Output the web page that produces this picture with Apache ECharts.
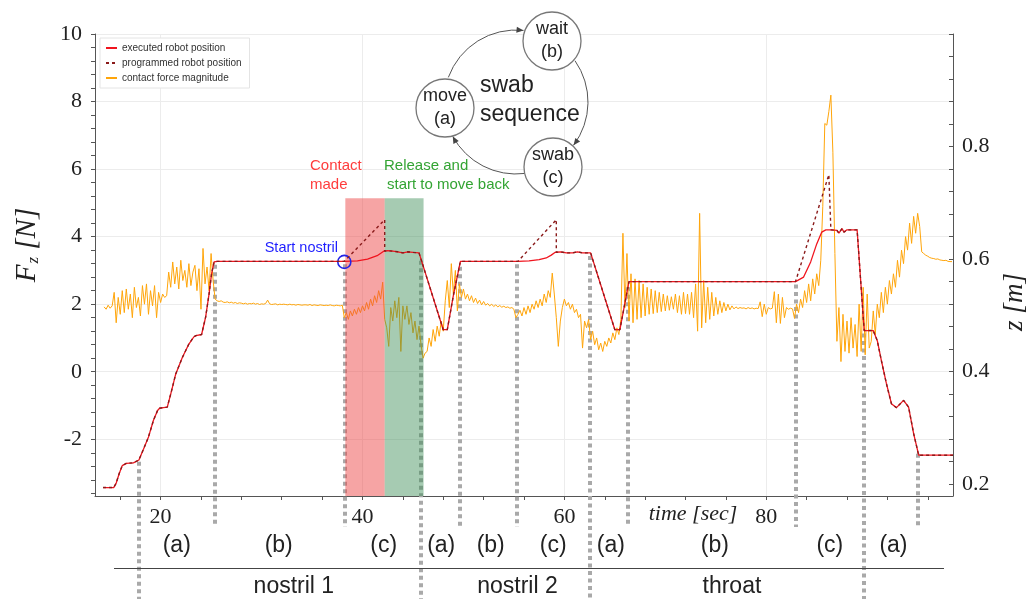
<!DOCTYPE html>
<html>
<head>
<meta charset="utf-8">
<script src="https://cdn.jsdelivr.net/npm/echarts@6/dist/echarts.min.js"></script>
<style>
  html, body { margin: 0; padding: 0; background: #fff; }
  #chart { width: 1029px; height: 599px; }
</style>
</head>
<body>
<div id="chart"></div>
<script>
// ---- values ----
const xTickLabels = [20, 40, 60, 80];
const forceTickLabels = [-2, 0, 2, 4, 6, 8, 10];
const zTickLabels = [0.2, 0.4, 0.6, 0.8];

// executed robot position (time [s], z [m])
const execTimes = [14.3, 15.35, 15.6, 15.9, 16.2, 16.6, 17.3, 17.85,
  18.3, 18.8, 19.3, 19.7, 19.9, 20.66,
  21.0, 21.5, 22.15, 22.8, 23.3, 23.5, 24.06,
  24.46, 24.8, 25.05, 25.3, 25.6,
  38.2, 39.5, 40.5, 41.45, 42.1, 42.5, 43.0, 43.5, 44.0, 44.5, 45.0, 45.6,
  48.0, 48.4, 49.0, 49.7,
  55.4, 56.5, 57.5, 58.2, 58.7, 59.1, 59.6, 60.2, 60.8, 61.3, 61.8, 62.6,
  65.0, 65.5, 66.4,
  82.9, 83.7, 84.4, 85.0, 85.5, 85.9, 86.5, 87.0, 87.2, 87.5, 87.7, 88.0, 89.0,
  89.7, 90.6, 91.0, 91.4, 91.9, 92.4, 92.9, 93.6, 94.1, 94.6, 95.1, 98.5];
const execZ = [0.194, 0.194, 0.202, 0.219, 0.233, 0.237, 0.238, 0.243,
  0.262, 0.284, 0.314, 0.331, 0.335, 0.337,
  0.360, 0.396, 0.425, 0.449, 0.462, 0.464, 0.466,
  0.497, 0.538, 0.574, 0.595, 0.596,
  0.596, 0.597, 0.600, 0.606, 0.614, 0.615, 0.614, 0.613, 0.611, 0.613, 0.612, 0.611,
  0.4745, 0.4745, 0.535, 0.596,
  0.596, 0.597, 0.599, 0.602, 0.607, 0.612, 0.613, 0.611, 0.611, 0.613, 0.611, 0.611,
  0.4745, 0.4745, 0.560,
  0.560, 0.568, 0.595, 0.627, 0.648, 0.652, 0.652, 0.651, 0.646, 0.654, 0.648, 0.652, 0.652,
  0.473, 0.473, 0.455, 0.420, 0.379, 0.343, 0.336, 0.349, 0.337, 0.290, 0.2515, 0.2515];

// programmed robot position
const progTimes = [14.3, 15.35, 15.6, 15.9, 16.2, 16.6, 17.3, 17.85,
  18.3, 18.8, 19.3, 19.7, 19.9, 20.66,
  21.0, 21.5, 22.15, 22.8, 23.3, 23.5, 24.06,
  24.46, 24.8, 25.05, 25.3, 25.6,
  38.2, 42.2, 42.2, 42.5, 43.0, 43.5, 44.0, 44.5, 45.0, 45.6,
  48.0, 48.4, 49.0, 49.7,
  55.4, 59.2, 59.2, 59.6, 60.2, 60.8, 61.3, 61.8, 62.6,
  65.0, 65.5, 66.4,
  82.9, 86.2, 86.4, 87.0, 87.2, 87.5, 87.7, 88.0, 89.0,
  89.7, 90.6, 91.0, 91.4, 91.9, 92.4, 92.9, 93.6, 94.1, 94.6, 95.1, 98.5];
const progZ = [0.194, 0.194, 0.202, 0.219, 0.233, 0.237, 0.238, 0.243,
  0.262, 0.284, 0.314, 0.331, 0.335, 0.337,
  0.360, 0.396, 0.425, 0.449, 0.462, 0.464, 0.466,
  0.497, 0.538, 0.574, 0.595, 0.596,
  0.596, 0.670, 0.614, 0.615, 0.614, 0.613, 0.611, 0.613, 0.612, 0.611,
  0.4745, 0.4745, 0.535, 0.596,
  0.596, 0.670, 0.612, 0.613, 0.611, 0.611, 0.613, 0.611, 0.611,
  0.4745, 0.4745, 0.560,
  0.560, 0.750, 0.652, 0.651, 0.646, 0.654, 0.648, 0.652, 0.652,
  0.473, 0.473, 0.455, 0.420, 0.379, 0.343, 0.336, 0.349, 0.337, 0.290, 0.2515, 0.2515];

// contact force magnitude [N], sampled every 0.2 s from 14.4 s
const forceStart = 14.4;
const forceStep = 0.2;
const forceValues = [
  1.92, 1.85, 1.97, 1.88, 1.95, 2.35, 1.45, 2.2, 1.7, 2.4,      // 14.4
  1.75, 2.45, 1.85, 2.3, 1.6, 2.5, 1.9, 2.2, 1.65, 2.55,        // 16.4
  2.0, 2.6, 1.7, 2.4, 1.95, 2.55, 1.6, 2.35, 2.05, 2.3,         // 18.4
  2.2, 2.25, 2.95, 2.5, 3.25, 2.6, 3.1, 2.45, 3.3, 2.7,         // 20.4
  3.0, 2.5, 3.2, 2.55, 2.95, 3.15, 2.4, 3.05, 1.85, 3.65,       // 22.4
  2.6, 3.1, 2.4, 3.5, 2.7, 2.15, 2.1, 2.08, 2.1, 2.06,          // 24.4
  2.05, 2.07, 2.04, 2.06, 2.03, 2.05, 2.02, 2.04, 2.03, 2.01,   // 26.4
  2.03, 2.0, 2.02, 2.01, 2.03, 2.0, 2.02, 1.99, 2.01, 2.0,      // 28.4
  2.02, 2.12, 2.01, 1.99, 2.0, 2.01, 1.98, 2.0, 1.99, 2.0,      // 30.4
  1.99, 1.98, 2.0, 1.98, 1.99, 1.97, 1.99, 1.98, 1.97, 1.98,    // 32.4
  1.98, 1.97, 1.99, 1.96, 1.98, 1.97, 1.96, 1.98, 1.97, 1.96,   // 34.4
  1.97, 1.96, 1.98, 1.96, 1.95, 1.97, 1.96, 1.95, 1.97, 1.6,    // 36.4
  1.75, 1.55, 1.8, 1.65, 1.85, 1.7, 1.9, 1.75, 1.95, 1.8,       // 38.4
  2.05, 1.85, 2.15, 1.95, 2.25, 2.05, 2.4, 2.15, 2.65, 1.55,    // 40.4
  1.3, 0.75, 1.9, 1.5, 2.1, 1.6, 2.2, 0.6, 1.95, 1.55,          // 42.4
  1.95, 1.4, 1.75, 1.15, 1.5, 0.95, 1.35, 0.8, 0.4, 0.55,       // 44.4
  0.6, 1.0, 0.75, 1.25, 0.9, 1.35, 1.05, 1.5, 1.2, 2.1,         // 46.4
  2.7, 1.9, 3.2, 2.3, 3.0, 1.8, 2.6, 2.2, 2.45, 2.15,           // 48.4
  2.3, 2.1, 2.25, 2.05, 2.18, 2.02, 2.12, 1.98, 2.08, 1.97,     // 50.4
  2.02, 1.95, 2.0, 1.93, 1.98, 1.92, 1.96, 1.91, 1.94, 1.9,     // 52.4
  1.92, 1.88, 1.9, 1.85, 1.6, 1.7, 1.82, 1.65, 1.9, 1.7,        // 54.4
  1.95, 1.75, 2.0, 1.85, 2.1, 1.9, 2.15, 1.95, 2.3, 2.05,       // 56.4
  2.4, 2.2, 2.92, 2.3, 1.6, 0.75, 1.5, 1.9, 2.15, 1.95,         // 58.4
  2.05, 1.85, 2.0, 1.75, 1.85, 1.6, 1.7, 0.7, 1.5, 1.3,         // 60.4
  1.55, 0.95, 1.2, 0.8, 1.0, 0.65, 0.85, 0.6, 0.9, 0.75,        // 62.4
  1.0, 0.85, 1.15, 0.95, 1.3, 1.1, 1.55, 4.1, 1.9, 3.5,         // 64.4
  1.5, 2.9, 1.45, 2.75, 1.55, 2.7, 1.6, 2.6, 1.65, 2.5,         // 66.4
  1.7, 2.45, 1.72, 2.4, 1.75, 2.35, 1.78, 2.3, 1.8, 2.25,       // 68.4
  1.82, 2.22, 1.85, 2.3, 1.75, 2.25, 1.7, 2.35, 1.72, 2.3,      // 70.4
  1.7, 2.35, 1.6, 2.6, 1.2, 4.69, 1.3, 2.7, 1.45, 2.5,          // 72.4
  1.55, 2.35, 1.65, 2.2, 1.7, 2.1, 1.75, 2.05, 1.8, 2.0,        // 74.4
  1.83, 1.95, 1.86, 1.92, 1.87, 1.9, 1.88, 1.89, 1.86, 1.9,     // 76.4
  1.87, 1.89, 1.86, 1.88, 1.87, 2.07, 1.63, 2.0, 1.7, 1.9,      // 78.4
  1.86, 1.88, 2.37, 1.45, 2.3, 1.43, 2.2, 1.6, 1.9, 1.85,       // 80.4
  1.88, 1.86, 1.58, 2.0, 1.75, 2.15, 1.9, 2.4, 2.05, 2.6,       // 82.4
  2.1, 2.75, 2.3, 2.9, 2.55, 3.3, 4.9, 7.35, 7.3, 7.7,          // 84.4
  8.19, 6.5, 3.5, 0.9, 1.9, 0.3, 1.7, 0.6, 1.5, 0.55,           // 86.4
  1.6, 0.7, 1.4, 0.45, 2.0, 0.6, 2.5, 0.5, 2.3, 0.7,            // 88.4
  0.9, 1.8, 1.1, 2.0, 1.6, 2.35, 1.75, 2.5, 2.0, 2.7,           // 90.4
  2.3, 2.9, 2.5, 3.3, 2.8, 3.6, 3.2, 4.0, 3.6, 4.4,             // 92.4
  3.8, 4.6, 4.1, 4.69, 4.3, 3.55, 3.5, 3.45, 3.42, 3.38,        // 94.4
  3.36, 3.35, 3.33, 3.34, 3.31, 3.3, 3.29, 3.3, 3.27, 3.26,     // 96.4
  3.26                                                          // 98.4
];

// shaded phases of the first swab
const contactSpan = [38.3, 42.2];
const releaseSpan = [42.2, 46.05];
const shadeTop = 5.14;

// start of the first nostril contact
const startNostril = [38.2, 0.595];

// phase boundaries (dotted) and labels under the axis
const boundaryTimes = [17.9, 25.35, 38.3, 45.75, 49.65, 55.35, 62.55, 66.35, 82.9, 89.7, 95.0];
const boundaryLong = [true, false, false, true, false, false, true, false, false, true, false];
const phaseLabels = ['(a)', '(b)', '(c)', '(a)', '(b)', '(c)', '(a)', '(b)', '(c)', '(a)'];
const phaseTimes = [21.6, 31.7, 42.1, 47.8, 52.7, 58.9, 64.6, 74.9, 86.3, 92.6];
const groupLabels = ['nostril 1', 'nostril 2', 'throat'];
const groupTimes = [33.2, 55.35, 76.6];

const sans = "'Liberation Sans', Arial, sans-serif";
const serif = "'Liberation Serif', 'Times New Roman', serif";

// minor tick positions
const xMinorTicks = [];
for (let v = 16; v <= 96; v += 4) xMinorTicks.push(v);
const forceMinorTicks = [];
for (let k = 0; k <= 34; k++) forceMinorTicks.push(+(-3.6 + 0.4 * k).toFixed(2));
const zMinorTicks = [];
for (let k = 0; k <= 20; k++) zMinorTicks.push(+(0.2 + 0.04 * k).toFixed(2));

const pairs = (ts, vs) => ts.map((t, i) => [t, vs[i]]);

const axisColor = '#555';
const gridColor = '#ececec';

const option = {
  animation: false,
  grid: { left: 95, right: 76, top: 34, bottom: 103, containLabel: false, outerBoundsMode: 'none' },
  legend: {
    data: ['executed robot position', 'programmed robot position', 'contact force magnitude'],
    orient: 'vertical',
    left: 100,
    top: 38,
    itemWidth: 11,
    itemHeight: 8,
    itemGap: 5,
    padding: [5, 8, 5, 5],
    borderColor: '#e4e4e4',
    borderWidth: 1,
    backgroundColor: '#fff',
    itemStyle: { opacity: 0 },
    textStyle: { fontSize: 10, color: '#333', fontFamily: sans }
  },
  xAxis: [
    {
      type: 'value', min: 13.5, max: 98.5, position: 'bottom',
      axisLine: { show: true, onZero: false, lineStyle: { color: axisColor } },
      axisTick: { show: false, customValues: xTickLabels },
      axisLabel: { customValues: xTickLabels, fontFamily: serif, fontSize: 22, color: '#222', margin: 10 },
      splitLine: { show: true, lineStyle: { color: gridColor } }
    },
    {
      type: 'value', min: 13.5, max: 98.5, position: 'bottom',
      axisLine: { show: false, onZero: false },
      axisTick: { show: true, customValues: xMinorTicks, length: 4, lineStyle: { color: axisColor } },
      axisLabel: { show: false },
      splitLine: { show: false }
    }
  ],
  yAxis: [
    {
      type: 'value', min: -3.68, max: 10, position: 'left',
      axisLine: { show: true, onZero: false, lineStyle: { color: axisColor } },
      axisTick: { show: false, customValues: forceTickLabels },
      axisLabel: { customValues: forceTickLabels, fontFamily: serif, fontSize: 22, color: '#222', margin: 13 },
      splitLine: { show: true, lineStyle: { color: gridColor } }
    },
    {
      type: 'value', min: 0.179, max: 1.0, position: 'right',
      axisLine: { show: true, onZero: false, lineStyle: { color: axisColor } },
      axisTick: { show: true, inside: true, customValues: zMinorTicks, length: 4, lineStyle: { color: axisColor } },
      axisLabel: { customValues: zTickLabels, fontFamily: serif, fontSize: 22, color: '#222', margin: 9 },
      splitLine: { show: false }
    },
    {
      type: 'value', min: -3.68, max: 10, position: 'left',
      axisLine: { show: false, onZero: false },
      axisTick: { show: true, customValues: forceMinorTicks, length: 4, lineStyle: { color: axisColor } },
      axisLabel: { show: false },
      splitLine: { show: false }
    }
  ],
  series: [
    {
      name: 'contact force magnitude',
      type: 'line',
      yAxisIndex: 0,
      z: 2,
      symbol: 'none',
      data: forceValues.map((v, i) => [+(forceStart + i * forceStep).toFixed(1), v]),
      lineStyle: { color: '#ffa50a', width: 1 },
      itemStyle: { color: '#ffb52e' }
    },
    {
      name: 'shade',
      type: 'line',
      yAxisIndex: 0,
      z: 3,
      data: [],
      markArea: {
        silent: true,
        z: 3,
        data: [
          [{ xAxis: contactSpan[0], yAxis: shadeTop, itemStyle: { color: 'rgba(236,64,64,0.48)' } },
           { xAxis: contactSpan[1], yAxis: -3.68 }],
          [{ xAxis: releaseSpan[0], yAxis: shadeTop, itemStyle: { color: 'rgba(58,140,84,0.45)' } },
           { xAxis: releaseSpan[1], yAxis: -3.68 }]
        ]
      }
    },
    {
      name: 'executed robot position',
      type: 'line',
      yAxisIndex: 1,
      z: 4,
      symbol: 'none',
      data: pairs(execTimes, execZ),
      lineStyle: { color: '#f0141e', width: 1.3 },
      itemStyle: { color: '#f0141e' },
      markPoint: {
        silent: true,
        symbol: 'circle',
        symbolSize: 13,
        itemStyle: { color: 'rgba(0,0,0,0)', borderColor: '#2323e6', borderWidth: 1.6 },
        label: {
          show: true, position: 'left', distance: 1, offset: [2, -14],
          formatter: 'Start nostril', color: '#1e1eff', fontSize: 14.5, fontFamily: sans
        },
        data: [{ coord: startNostril }]
      }
    },
    {
      name: 'programmed robot position',
      type: 'line',
      yAxisIndex: 1,
      z: 5,
      symbol: 'none',
      data: pairs(progTimes, progZ),
      lineStyle: { color: '#8a1a1a', width: 1.4, type: [3, 3] },
      itemStyle: { color: '#8a1a1a' }
    }
  ]
};

const chart = echarts.init(document.getElementById('chart'));
chart.setOption(option);

// linear read of the executed curve, for the tops of the dotted markers
function execAt(t) {
  for (let i = 1; i < execTimes.length; i++) {
    if (t <= execTimes[i]) {
      const t0 = execTimes[i - 1], t1 = execTimes[i];
      const f = t1 === t0 ? 0 : (t - t0) / (t1 - t0);
      return execZ[i - 1] + f * (execZ[i] - execZ[i - 1]);
    }
  }
  return execZ[execZ.length - 1];
}

const px = t => chart.convertToPixel({ xAxisIndex: 0 }, t);
const pz = z => chart.convertToPixel({ yAxisIndex: 1 }, z);

const elements = [];

// dotted phase boundaries
boundaryTimes.forEach((t, i) => {
  const x = Math.round(px(t));
  elements.push({
    type: 'line', z: 1, silent: true,
    shape: { x1: x, y1: pz(execAt(t)) + 3, x2: x, y2: boundaryLong[i] ? 599 : 527 },
    style: { stroke: '#a9a9a9', lineWidth: 4, lineDash: [4, 3.5] }
  });
});

// phase and group labels under the axis
phaseLabels.forEach((s, i) => {
  elements.push({
    type: 'text', z: 10, silent: true, x: px(phaseTimes[i]), y: 546,
    style: { text: s, font: '23px ' + sans, fill: '#222', align: 'center', verticalAlign: 'middle' }
  });
});
groupLabels.forEach((s, i) => {
  elements.push({
    type: 'text', z: 10, silent: true, x: px(groupTimes[i]), y: 587,
    style: { text: s, font: '23px ' + sans, fill: '#222', align: 'center', verticalAlign: 'middle' }
  });
});
elements.push({
  type: 'line', z: 10, silent: true,
  shape: { x1: 114, y1: 568.5, x2: 944, y2: 568.5 },
  style: { stroke: '#444', lineWidth: 1 }
});

// axis names
elements.push({
  type: 'text', z: 10, silent: true, x: 27, y: 245, rotation: Math.PI / 2,
  style: {
    text: '{i|F}{s|z}{i| [N]}', align: 'center', verticalAlign: 'middle', fill: '#222',
    rich: {
      i: { fontFamily: serif, fontStyle: 'italic', fontSize: 29, fill: '#222' },
      s: { fontFamily: serif, fontStyle: 'italic', fontSize: 17, fill: '#222', padding: [14, 0, 0, 1] }
    }
  }
});
elements.push({
  type: 'text', z: 10, silent: true, x: 1015, y: 302, rotation: Math.PI / 2,
  style: { text: 'z [m]', font: 'italic 27px ' + serif, fill: '#222', align: 'center', verticalAlign: 'middle' }
});
elements.push({
  type: 'text', z: 10, silent: true, x: 693, y: 514,
  style: { text: 'time [sec]', font: 'italic 22px ' + serif, fill: '#222', align: 'center', verticalAlign: 'middle' }
});

// annotations of the first swab
[['Contact', 310, 166], ['made', 310, 185]].forEach(([s, x, y]) => {
  elements.push({ type: 'text', z: 10, silent: true, x, y,
    style: { text: s, font: '15px ' + sans, fill: '#ff3c3c', align: 'left', verticalAlign: 'middle' } });
});
[['Release and', 384, 166], ['start to move back', 387, 185]].forEach(([s, x, y]) => {
  elements.push({ type: 'text', z: 10, silent: true, x, y,
    style: { text: s, font: '15px ' + sans, fill: '#33a433', align: 'left', verticalAlign: 'middle' } });
});

// swab sequence diagram
const ring = { cx: 516, cy: 102, r: 72 };
const arcs = [[200, 276], [-35, 37], [83, 151.5]];
arcs.forEach(([a0, a1]) => {
  const s = a0 * Math.PI / 180, e = a1 * Math.PI / 180;
  elements.push({
    type: 'arc', z: 10, silent: true,
    shape: { cx: ring.cx, cy: ring.cy, r: ring.r, startAngle: s, endAngle: e, clockwise: true },
    style: { stroke: '#555', lineWidth: 1, fill: null }
  });
  const tipX = ring.cx + ring.r * Math.cos(e), tipY = ring.cy + ring.r * Math.sin(e);
  const dx = -Math.sin(e), dy = Math.cos(e), nx = Math.cos(e), ny = Math.sin(e);
  elements.push({
    type: 'polygon', z: 11, silent: true,
    shape: { points: [[tipX, tipY], [tipX - 7 * dx + 3 * nx, tipY - 7 * dy + 3 * ny], [tipX - 7 * dx - 3 * nx, tipY - 7 * dy - 3 * ny]] },
    style: { fill: '#444' }
  });
});
[[445, 108, 'move', '(a)'], [552, 41, 'wait', '(b)'], [553, 167, 'swab', '(c)']].forEach(([cx, cy, a, b]) => {
  elements.push({ type: 'circle', z: 12, silent: true, shape: { cx, cy, r: 29 },
    style: { fill: '#fff', stroke: '#777', lineWidth: 1.3 } });
  elements.push({ type: 'text', z: 13, silent: true, x: cx, y: cy - 12,
    style: { text: a, font: '18px ' + sans, fill: '#222', align: 'center', verticalAlign: 'middle' } });
  elements.push({ type: 'text', z: 13, silent: true, x: cx, y: cy + 11,
    style: { text: b, font: '18px ' + sans, fill: '#222', align: 'center', verticalAlign: 'middle' } });
});
elements.push({ type: 'text', z: 13, silent: true, x: 480, y: 86,
  style: { text: 'swab', font: '23px ' + sans, fill: '#222', align: 'left', verticalAlign: 'middle' } });
elements.push({ type: 'text', z: 13, silent: true, x: 480, y: 115,
  style: { text: 'sequence', font: '23px ' + sans, fill: '#222', align: 'left', verticalAlign: 'middle' } });

chart.setOption({ graphic: elements });
</script>
</body>
</html>
